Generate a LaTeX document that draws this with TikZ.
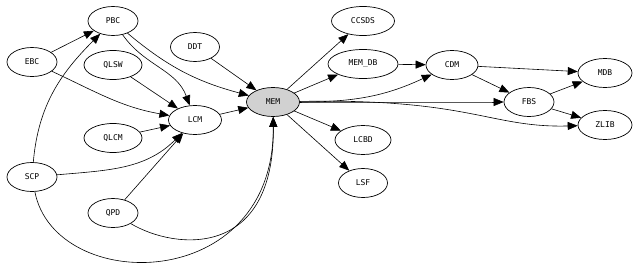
\documentclass[tikz,border=0pt]{standalone}
\usepackage{fontspec}
\setmonofont{DejaVu Sans Mono}
\usetikzlibrary{shapes.geometric,arrows.meta}
\begin{document}
\begin{tikzpicture}[x=1pt, y=1pt, every node/.style={font=\ttfamily\fontsize{8}{9}\selectfont},
  mod/.style={ellipse, draw, line width=0.7pt, inner sep=0pt, minimum height=29pt},
  dep/.style={-{Triangle[length=10pt,width=8pt]}, line width=0.6pt}]
  \useasboundingbox (0,0) rectangle (637,-276);
  % left side
  \node[mod, minimum width=50pt] (pbc) at (113,-21) {PBC};
  \node[mod, minimum width=50pt] (ebc) at (32,-62) {EBC};
  \node[mod, minimum width=49pt] (ddt) at (195,-47) {DDT};
  \node[mod, minimum width=58pt] (qlsw) at (113,-65) {QLSW};
  \node[mod, minimum width=53pt] (lcm) at (195,-120) {LCM};
  \node[mod, minimum width=58pt] (qlcm) at (113,-138) {QLCM};
  \node[mod, minimum width=50pt] (scp) at (32,-177) {SCP};
  \node[mod, minimum width=50pt] (qpd) at (113,-213) {QPD};
  \node[mod, minimum width=53pt, fill=black!18] (mem) at (273,-102) {MEM};
  % right side
  \node[mod, minimum width=63pt] (ccsds) at (363,-21) {CCSDS};
  \node[mod, minimum width=70pt] (memdb) at (363,-64) {MEM\_DB};
  \node[mod, minimum width=56pt] (lcbd) at (363,-140) {LCBD};
  \node[mod, minimum width=49pt] (lsf) at (363,-183) {LSF};
  \node[mod, minimum width=52pt] (cdm) at (452,-65) {CDM};
  \node[mod, minimum width=50pt] (fbs) at (529,-102) {FBS};
  \node[mod, minimum width=54pt] (mdb) at (605,-73) {MDB};
  \node[mod, minimum width=54pt] (zlib) at (605,-125) {ZLIB};

  \draw[dep] (ebc) -- (pbc);
  \draw[dep] (ebc) to[out=-25, in=170] (lcm);
  \draw[dep] (scp) to[out=85, in=-135] (pbc);
  \draw[dep] (scp) to[out=5, in=-135] (lcm);
  \draw[dep] (scp) .. controls (55,-295) and (275,-295) .. (mem);
  \draw[dep] (pbc) to[out=-55, in=110] (lcm);
  \draw[dep] (pbc) to[out=-40, in=165] (mem);
  \draw[dep] (qlsw) -- (lcm);
  \draw[dep] (qlcm) -- (lcm);
  \draw[dep] (qpd) -- (lcm);
  \draw[dep] (qpd) .. controls (175,-250) and (275,-260) .. (mem);
  \draw[dep] (ddt) -- (mem);
  \draw[dep] (lcm) -- (mem);
  \draw[dep] (mem) -- (ccsds);
  \draw[dep] (mem) -- (memdb);
  \draw[dep] (mem) -- (lcbd);
  \draw[dep] (mem) -- (lsf);
  \draw[dep] (mem) to[out=0, in=-155] (cdm);
  \draw[dep] (mem) to[out=0, in=180] (fbs);
  \draw[dep] (mem) .. controls (470,-98) and (490,-128) .. (zlib);
  \draw[dep] (memdb) -- (cdm);
  \draw[dep] (cdm) -- (mdb);
  \draw[dep] (cdm) -- (fbs);
  \draw[dep] (fbs) -- (mdb);
  \draw[dep] (fbs) -- (zlib);
\end{tikzpicture}
\end{document}
